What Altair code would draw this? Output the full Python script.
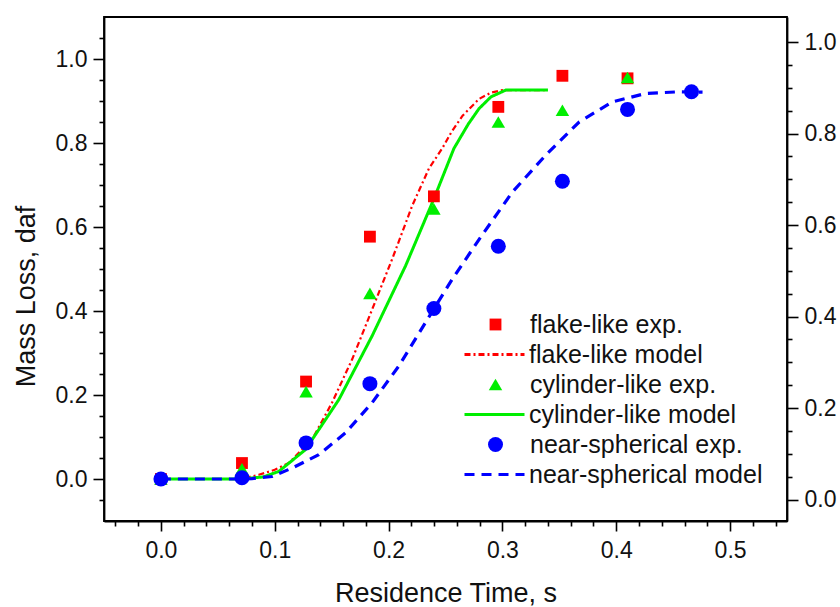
import altair as alt
import pandas as pd

# ---------------- data ----------------
exp_time = [0.0, 0.0712, 0.1275, 0.1836, 0.2398, 0.2964, 0.3527, 0.4099, 0.4661]
flake_exp = [0.0, 0.038, 0.232, 0.577, 0.673, 0.886, 0.960, 0.954]
cyl_exp = [0.0, 0.024, 0.208, 0.442, 0.643, 0.850, 0.878, 0.956]
sph_exp = [0.0, 0.003, 0.086, 0.227, 0.406, 0.554, 0.709, 0.880, 0.922]

flake_model_t = [0.0, 0.07, 0.086, 0.1, 0.1123, 0.1328, 0.1504, 0.168, 0.1856, 0.2032,
                 0.2208, 0.2354, 0.2471, 0.255, 0.265, 0.2795, 0.29, 0.30, 0.34]
flake_model_y = [0.0, 0.0, 0.010, 0.022, 0.038, 0.094, 0.182, 0.285, 0.404, 0.524,
                 0.651, 0.739, 0.787, 0.825, 0.865, 0.905, 0.920, 0.926, 0.926]

cyl_model_t = [0.0, 0.07, 0.09, 0.1035, 0.127, 0.1563, 0.1856, 0.215, 0.2398, 0.2574,
               0.27, 0.2795, 0.29, 0.303, 0.34]
cyl_model_y = [0.0, 0.0, 0.005, 0.018, 0.070, 0.189, 0.341, 0.508, 0.667, 0.787,
               0.845, 0.882, 0.910, 0.926, 0.926]

sph_model_t = [0.0, 0.07, 0.08, 0.0976, 0.1152, 0.1387, 0.1622, 0.1856, 0.209, 0.2325,
               0.256, 0.2794, 0.3087, 0.338, 0.3674, 0.3967, 0.426, 0.4553, 0.4758]
sph_model_y = [0.0, 0.0, 0.001, 0.006, 0.026, 0.058, 0.110, 0.182, 0.269, 0.373,
               0.476, 0.570, 0.683, 0.771, 0.850, 0.898, 0.918, 0.922, 0.921]

exp_names = ["flake-like exp.", "cylinder-like exp.", "near-spherical exp."]
model_names = ["flake-like model", "cylinder-like model", "near-spherical model"]

x_tick_values = [-0.04, -0.02, 0.0, 0.02, 0.04, 0.06, 0.08, 0.1, 0.12, 0.14, 0.16, 0.18,
                 0.2, 0.22, 0.24, 0.26, 0.28, 0.3, 0.32, 0.34, 0.36, 0.38, 0.4, 0.42,
                 0.44, 0.46, 0.48, 0.5, 0.52, 0.54]
y_tick_values = [-0.05, 0.0, 0.05, 0.1, 0.15, 0.2, 0.25, 0.3, 0.35, 0.4, 0.45, 0.5, 0.55,
                 0.6, 0.65, 0.7, 0.75, 0.8, 0.85, 0.9, 0.95, 1.0, 1.05]
y_right_tick_values = [0.0, 0.05, 0.1, 0.15, 0.2, 0.25, 0.3, 0.35, 0.4, 0.45, 0.5, 0.55,
                       0.6, 0.65, 0.7, 0.75, 0.8, 0.85, 0.9, 0.95, 1.0]

# ---------------- styles ----------------
RED, GREEN, BLUE = "#ff0000", "#00ee00", "#0000ff"
exp_colors = [RED, GREEN, BLUE]
exp_shapes = ["square", "triangle-up", "circle"]
exp_sizes = [140, 225, 150]
model_colors = [RED, GREEN, BLUE]
model_dashes = [[6, 3, 2, 3], [1, 0], [10, 7]]
FONT = "Liberation Sans"
TXT = "#111111"

# ---------------- tables ----------------
rows = []
for name, vals in zip(exp_names, [flake_exp, cyl_exp, sph_exp]):
    for t, v in zip(exp_time, vals):
        rows.append({"t": t, "ml": v, "series": name})
exp_df = pd.DataFrame(rows)

flake_df = pd.DataFrame({"t": flake_model_t, "ml": flake_model_y, "series": model_names[0]})
cyl_df = pd.DataFrame({"t": cyl_model_t, "ml": cyl_model_y, "series": model_names[1]})
sph_df = pd.DataFrame({"t": sph_model_t, "ml": sph_model_y, "series": model_names[2]})
sph_exp_df = exp_df[exp_df["series"] == exp_names[2]]

# ---------------- scales / axes ----------------
xs = alt.Scale(domain=[-0.05, 0.55], nice=False, zero=False)
ys = alt.Scale(domain=[-0.1, 1.1], nice=False, zero=False)
ys_right = alt.Scale(domain=[-0.047, 1.055], nice=False, zero=False)

x_major = "abs(datum.value*10 - round(datum.value*10)) < 0.001"
y_major = "abs(datum.value*5 - round(datum.value*5)) < 0.001"

common_axis = dict(grid=False, domainColor="black", domainWidth=1.8, tickColor="black",
                   tickWidth=1.6, labelFont=FONT, labelFontSize=23, labelColor=TXT,
                   titleFont=FONT, titleFontWeight="normal", titleColor=TXT,
                   titleFontSize=27, labelOverlap=False, labelFlush=False)

x_axis = alt.Axis(values=x_tick_values, orient="bottom",
                  labelExpr=f"{x_major} ? format(datum.value, '.1f') : ''",
                  tickSize={"condition": {"test": x_major, "value": 10}, "value": 5},
                  labelPadding=8, title="Residence Time, s",
                  titleBaseline="alphabetic", titleY=80, **common_axis)
y_axis = alt.Axis(values=y_tick_values, orient="left",
                  labelExpr=f"{y_major} ? format(datum.value, '.1f') : ''",
                  tickSize={"condition": {"test": y_major, "value": 11}, "value": 5},
                  labelPadding=6, title="Mass Loss, daf", titleX=-64, titleY=279,
                  **common_axis)
y_axis_right = alt.Axis(values=y_right_tick_values, orient="right",
                        labelExpr=f"{y_major} ? format(datum.value, '.1f') : ''",
                        tickSize={"condition": {"test": y_major, "value": 11}, "value": 5},
                        labelPadding=6, title=None, **common_axis)

legend_common = dict(title=None, orient="none", padding=0, labelFont=FONT,
                     labelFontSize=25, labelColor=TXT, labelLimit=0, rowPadding=34)

exp_legend = alt.Legend(legendX=354, legendY=295, symbolOffset=25, labelOffset=22,
                        symbolStrokeWidth=0, **legend_common)
model_legend = alt.Legend(legendX=353, legendY=325, symbolOffset=25, labelOffset=22,
                          symbolType="M-5,0H5", symbolSize=144, symbolStrokeWidth=2.8,
                          **legend_common)

fill_scale = alt.Scale(domain=exp_names, range=exp_colors)
shape_scale = alt.Scale(domain=exp_names, range=exp_shapes)
size_scale = alt.Scale(domain=exp_names, range=exp_sizes)
stroke_scale = alt.Scale(domain=model_names, range=model_colors)
dash_scale = alt.Scale(domain=model_names, range=model_dashes)


def model_layer(df, width, first=False):
    return alt.Chart(df).mark_line(strokeWidth=width, clip=True).encode(
        x=alt.X("t:Q", scale=xs, axis=x_axis if first else None),
        y=alt.Y("ml:Q", scale=ys, axis=y_axis if first else None),
        stroke=alt.Stroke("series:N", scale=stroke_scale, legend=model_legend),
        strokeDash=alt.StrokeDash("series:N", scale=dash_scale, legend=model_legend),
    )


red_line = model_layer(flake_df, 2.2, first=True)
green_line = model_layer(cyl_df, 3)
blue_line = model_layer(sph_df, 3.2)

points = alt.Chart(exp_df).mark_point(filled=True, opacity=1).encode(
    x=alt.X("t:Q", scale=xs, axis=None),
    y=alt.Y("ml:Q", scale=ys, axis=None),
    fill=alt.Fill("series:N", scale=fill_scale, legend=exp_legend),
    shape=alt.Shape("series:N", scale=shape_scale, legend=exp_legend),
    size=alt.Size("series:N", scale=size_scale, legend=exp_legend),
)

right_axis = alt.Chart(sph_exp_df).mark_point(opacity=0).encode(
    x=alt.X("t:Q", scale=xs, axis=None),
    y=alt.Y("ml:Q", scale=ys_right, axis=y_axis_right),
)

chart = alt.layer(red_line, green_line, blue_line, points, right_axis).resolve_scale(
    x="independent", y="independent"
).properties(
    width=683, height=504,
    padding={"left": 104, "top": 17, "right": 53, "bottom": 86},
    autosize=alt.AutoSizeParams(type="none"),
    background="white",
).configure_view(stroke="black", strokeWidth=1.8)

chart.save("out.html", embed_options={"renderer": "svg", "actions": False})
